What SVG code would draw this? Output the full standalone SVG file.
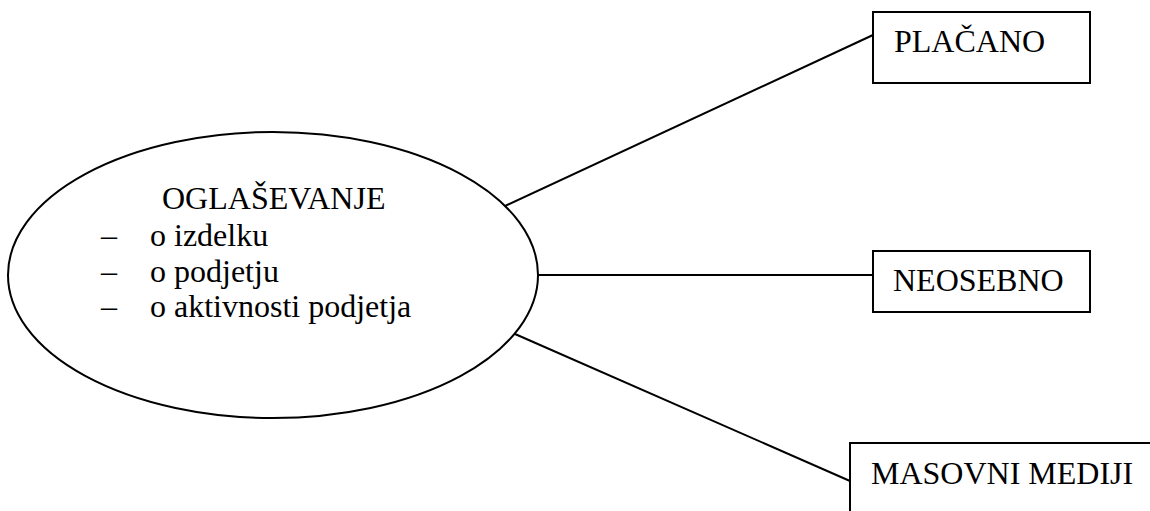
<svg xmlns="http://www.w3.org/2000/svg" width="1150" height="511" viewBox="0 0 1150 511">
<style>
.shape{fill:#fff;stroke:#000;stroke-width:2}
.conn line{stroke:#000;stroke-width:2}
text{font-family:"Liberation Serif","Times New Roman",serif;font-size:32px;fill:#000}
</style>
<rect width="1150" height="511" fill="#fff"/>
<g id="connectors" class="conn">
<line x1="505" y1="206" x2="873" y2="35"/>
<line x1="538" y1="275" x2="873" y2="275"/>
<line x1="515" y1="334" x2="850" y2="481"/>
</g>
<g id="oglasevanje">
<ellipse class="shape" cx="273" cy="275" rx="265" ry="143"/>
<text x="162" y="209">OGLAŠEVANJE</text>
<text x="101" y="246">–</text><text x="150" y="246">o izdelku</text>
<text x="101" y="282">–</text><text x="150" y="282">o podjetju</text>
<text x="101" y="317">–</text><text x="150" y="317">o aktivnosti podjetja</text>
</g>
<g id="placano">
<rect class="shape" x="873" y="12" width="217" height="71"/>
<text x="894" y="52">PLAČANO</text>
</g>
<g id="neosebno">
<rect class="shape" x="873" y="251" width="217" height="61"/>
<text x="893" y="291">NEOSEBNO</text>
</g>
<g id="masovni">
<rect class="shape" x="850" y="443" width="320" height="90"/>
<text x="871" y="484">MASOVNI MEDIJI</text>
</g>
</svg>
